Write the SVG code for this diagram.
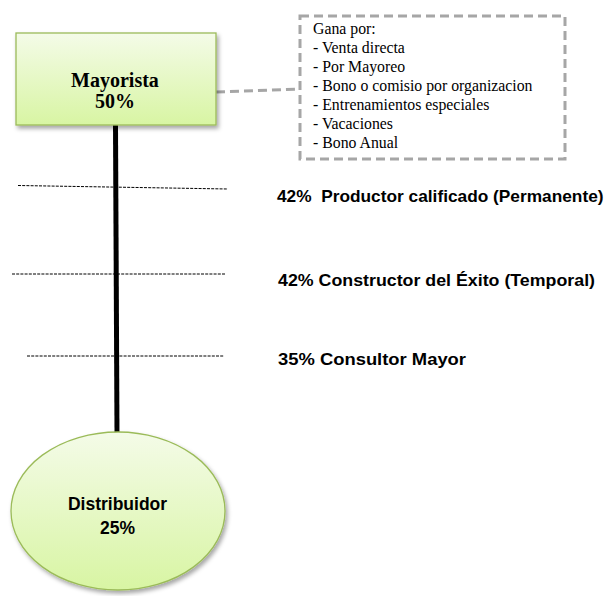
<svg xmlns="http://www.w3.org/2000/svg" width="614" height="596" viewBox="0 0 614 596">
  <defs>
    <linearGradient id="gGreen" x1="0" y1="0" x2="0" y2="1">
      <stop offset="0" stop-color="#F4FBE8"/>
      <stop offset="1" stop-color="#D8F5A3"/>
    </linearGradient>
    <filter id="shadow" x="-10%" y="-10%" width="125%" height="125%">
      <feDropShadow dx="2" dy="3" stdDeviation="2" flood-color="#000" flood-opacity="0.35"/>
    </filter>
  </defs>
  <style>
    .node { fill: url(#gGreen); stroke: #9BBB59; stroke-width: 1.3; filter: url(#shadow); }
    .serifB { font-family: "Liberation Serif", "Times New Roman", serif; font-weight: bold; font-size: 20px; fill: #000; }
    .serif { font-family: "Liberation Serif", "Times New Roman", serif; font-size: 15.8px; fill: #000; }
    .sansB { font-family: "Liberation Sans", Arial, sans-serif; font-weight: bold; font-size: 17.5px; fill: #000; }
    .lbl { font-family: "Liberation Sans", Arial, sans-serif; font-weight: bold; font-size: 17.3px; fill: #000; }
    .tick { stroke: #000; stroke-width: 1; stroke-dasharray: 3 1.2; fill: none; }
    .gray { stroke: #A6A6A6; stroke-width: 3; stroke-dasharray: 9 5; fill: none; }
  </style>
  <rect width="614" height="596" fill="#fff"/>

  <g id="connectors">
    <line x1="115.5" y1="125" x2="117" y2="434" stroke="#000" stroke-width="5"/>
    <line class="gray" x1="216" y1="92" x2="300" y2="89"/>
    <line class="tick" x1="18" y1="185.5" x2="228" y2="189"/>
    <line class="tick" x1="12" y1="274" x2="226" y2="274"/>
    <line class="tick" x1="27" y1="356" x2="224" y2="356"/>
  </g>

  <g id="mayorista">
    <rect class="node" x="16" y="33" width="200" height="92"/>
    <text class="serifB" x="115" y="86.5" text-anchor="middle">Mayorista</text>
    <text class="serifB" x="115" y="108" text-anchor="middle">50%</text>
  </g>

  <g id="gana-por">
    <rect class="gray" x="300" y="16" width="265" height="143"/>
    <text class="serif" x="313" y="34.3">Gana por:</text>
    <text class="serif" x="313" y="53.2">- Venta directa</text>
    <text class="serif" x="313" y="72.1">- Por Mayoreo</text>
    <text class="serif" x="313" y="91">- Bono o comisio por organizacion</text>
    <text class="serif" x="313" y="109.9">- Entrenamientos especiales</text>
    <text class="serif" x="313" y="128.8">- Vacaciones</text>
    <text class="serif" x="313" y="147.7">- Bono Anual</text>
  </g>

  <g id="nivel-productor">
    <text class="lbl" x="277" y="201.5" xml:space="preserve">42%  Productor calificado (Permanente)</text>
  </g>
  <g id="nivel-constructor">
    <text class="lbl" x="278" y="286" textLength="317" lengthAdjust="spacingAndGlyphs">42% Constructor del Éxito (Temporal)</text>
  </g>
  <g id="nivel-consultor">
    <text class="lbl" x="278" y="364.5" textLength="188" lengthAdjust="spacingAndGlyphs">35% Consultor Mayor</text>
  </g>

  <g id="distribuidor">
    <ellipse class="node" cx="118" cy="511" rx="107" ry="79"/>
    <text class="sansB" x="117.5" y="510" text-anchor="middle">Distribuidor</text>
    <text class="sansB" x="117.5" y="533.5" text-anchor="middle">25%</text>
  </g>
</svg>
